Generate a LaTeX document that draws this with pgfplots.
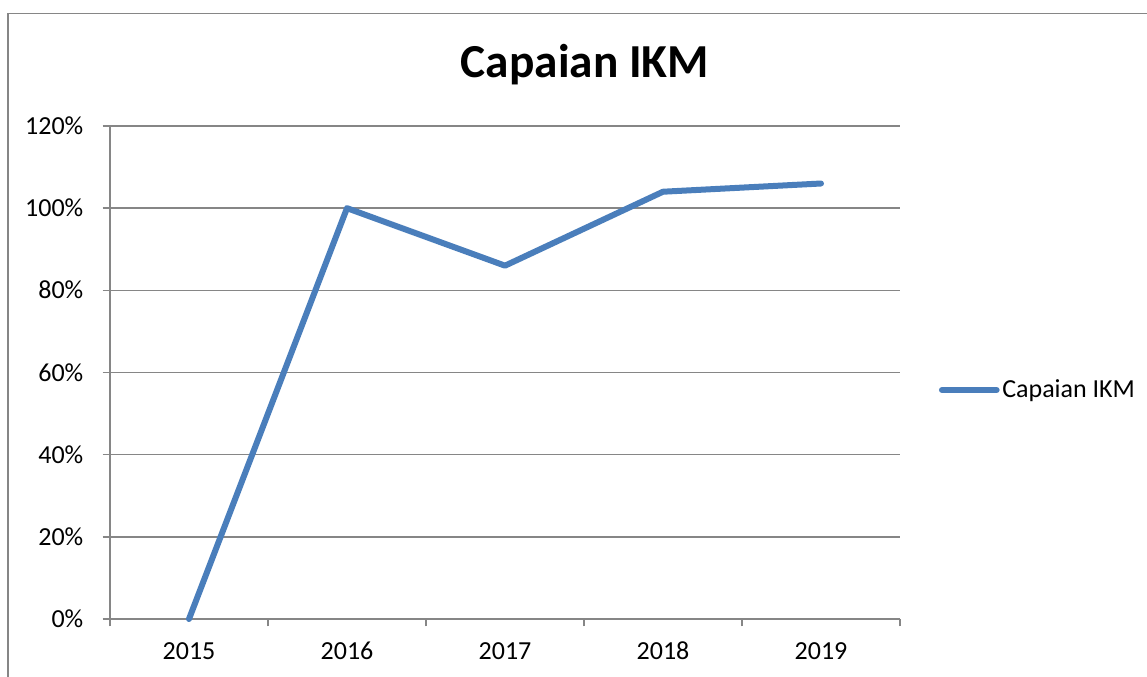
\documentclass[border=0pt]{standalone}
\usepackage{pgfplots}
\pgfplotsset{compat=1.18}
\usepackage{fontspec}
\setmainfont{Carlito}
\definecolor{linecol}{RGB}{74,126,187}
\definecolor{gridcol}{RGB}{134,134,134}
\begin{document}
\begin{tikzpicture}[x=0.75pt,y=0.75pt]
\useasboundingbox (0,0) rectangle (1147,677);
\draw[gridcol, line width=1.1pt] (8,0) -- (8,663.5) -- (1147,663.5);
\node[font=\fontsize{35.5}{40}\selectfont\bfseries, anchor=base] at (585,599.3) {Capaian IKM};
\begin{axis}[
  at={(82.5pt,43.5pt)}, anchor=south west,
  scale only axis,
  width=592.5pt, height=369.75pt,
  xmin=-0.5, xmax=4.5,
  ymin=0, ymax=120,
  xtick={-0.5,0.5,1.5,2.5,3.5,4.5},
  xticklabels={2015,2016,2017,2018,2019},
  x tick label as interval,
  ytick={0,20,40,60,80,100,120},
  yticklabels={0\%,20\%,40\%,60\%,80\%,100\%,120\%},
  axis x line*=bottom,
  axis y line*=left,
  axis line style={gridcol, line width=1.1pt, -},
  ymajorgrids,
  major grid style={gridcol, line width=1.1pt},
  tick style={gridcol, line width=1.1pt},
  tick align=outside,
  major tick length=5.5pt,
  tick label style={font=\fontsize{19.5}{22}\selectfont},
  typeset ticklabels with strut,
  xticklabel style={yshift=-6pt},
  yticklabel style={xshift=-11pt, yshift=-2pt},
  clip=false,
  legend style={at={(1.049,0.4645)}, anchor=west, draw=none, fill=none,
    font=\fontsize{19.5}{22}\selectfont, inner sep=0pt,
    legend cell align=left},
  legend image code/.code={\draw[#1, line cap=round] (0pt,0pt) -- (41pt,0pt);},
]
\addplot[color=linecol, line width=4.5pt, line cap=round, line join=round, mark=none]
  coordinates {(0,0) (1,100) (2,86) (3,104) (4,106)};
\addlegendentry{Capaian IKM}
\end{axis}
\end{tikzpicture}
\end{document}
